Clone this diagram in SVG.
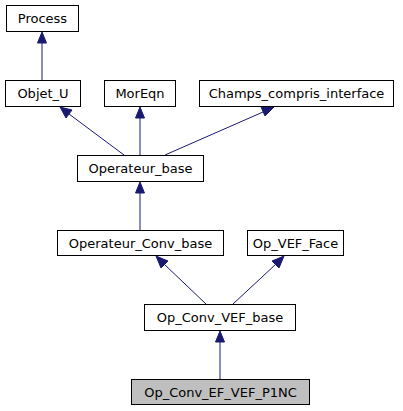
<svg xmlns="http://www.w3.org/2000/svg" width="403" height="411" viewBox="0 0 403 411">
<style>
.n rect{fill:#fff;stroke:#000;stroke-width:1}
.n text{font-family:"DejaVu Sans",sans-serif;font-size:13px;text-anchor:middle;fill:#000}
.e path{fill:none;stroke:#191970;stroke-width:1}
.e polygon{fill:#191970;stroke:#191970;stroke-width:1}
</style>
<rect width="403" height="411" fill="#fff"/>
<g class="e">
<path d="M42,80 V43"/><polygon points="42,32 46.5,43 37.5,43"/>
<path d="M124,155 L69,114"/><polygon points="60,107 72,110 66,118"/>
<path d="M140,155 V118"/><polygon points="140,107 144.5,118 135.5,118"/>
<path d="M165,155 L263,112"/><polygon points="274,107 265,116 261,107"/>
<path d="M140,230 V193"/><polygon points="140,182 144.5,193 135.5,193"/>
<path d="M206,304 L164,264"/><polygon points="156,256 168,261 161,268"/>
<path d="M233,304 L276,264"/><polygon points="284,256 279,268 272,261"/>
<path d="M220,379 V342"/><polygon points="220,331 224.5,342 215.5,342"/>
</g>
<g class="n" id="Process"><rect x="6.5" y="5.5" width="72" height="26"/><text x="42.5" y="23">Process</text></g>
<g class="n" id="Objet_U"><rect x="5.5" y="80.5" width="75" height="26"/><text x="43" y="98">Objet_U</text></g>
<g class="n" id="MorEqn"><rect x="104.5" y="80.5" width="71" height="26"/><text x="140" y="98">MorEqn</text></g>
<g class="n" id="Champs_compris_interface"><rect x="199.5" y="80.5" width="194" height="26"/><text x="296.5" y="98">Champs_compris_interface</text></g>
<g class="n" id="Operateur_base"><rect x="77.5" y="155.5" width="126" height="26"/><text x="140.5" y="173">Operateur_base</text></g>
<g class="n" id="Operateur_Conv_base"><rect x="57.5" y="230.5" width="166" height="25"/><text x="140.5" y="247.5">Operateur_Conv_base</text></g>
<g class="n" id="Op_VEF_Face"><rect x="247.5" y="230.5" width="96" height="25"/><text x="295.5" y="247.5">Op_VEF_Face</text></g>
<g class="n" id="Op_Conv_VEF_base"><rect x="144.5" y="304.5" width="151" height="26"/><text x="220" y="322">Op_Conv_VEF_base</text></g>
<g class="n" id="Op_Conv_EF_VEF_P1NC"><rect x="131.5" y="379.5" width="178" height="25" style="fill:#bfbfbf"/><text x="220.5" y="396.5">Op_Conv_EF_VEF_P1NC</text></g>
</svg>
